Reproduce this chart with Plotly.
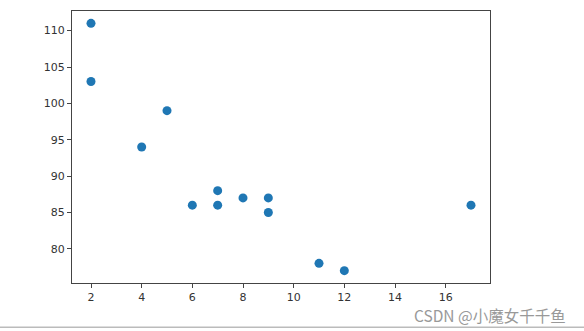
import plotly.graph_objects as go

x_vals = [5, 7, 8, 7, 2, 17, 2, 9, 4, 11, 12, 9, 6]
y_vals = [99, 86, 87, 88, 111, 86, 103, 87, 94, 78, 77, 85, 86]
x_ticks = [2, 4, 6, 8, 10, 12, 14, 16]
y_ticks = [80, 85, 90, 95, 100, 105, 110]

fig = go.Figure()
fig.add_trace(go.Scatter(
    x=x_vals, y=y_vals, mode="markers",
    marker=dict(color="#1f77b4", size=9, line=dict(width=0)),
))

axis_common = dict(
    showgrid=False, zeroline=False, showline=True, linecolor="#444", linewidth=1,
    mirror=True, ticks="outside", ticklen=4, tickcolor="#444",
    tickfont=dict(family="DejaVu Sans", size=11, color="#333"),
)
fig.update_xaxes(range=[1.25, 17.75], tickvals=x_ticks, **axis_common)
fig.update_yaxes(range=[75.3, 112.7], tickvals=y_ticks, **axis_common)

fig.add_annotation(
    text="CSDN @小魔女千千鱼", xref="paper", yref="paper", x=1.187, y=-0.116,
    xanchor="right", yanchor="middle", showarrow=False,
    font=dict(family="Noto Sans CJK SC", size=15.5, color="#999"),
)
fig.add_shape(type="line", xref="paper", yref="paper", x0=-0.2, x1=1.3, y0=-0.163, y1=-0.163,
              line=dict(color="#bbb", width=1.5))

fig.update_layout(
    width=584, height=331, margin=dict(l=72, r=94, t=11, b=48),
    plot_bgcolor="white", paper_bgcolor="white", showlegend=False,
)
fig.write_html("out.html")
